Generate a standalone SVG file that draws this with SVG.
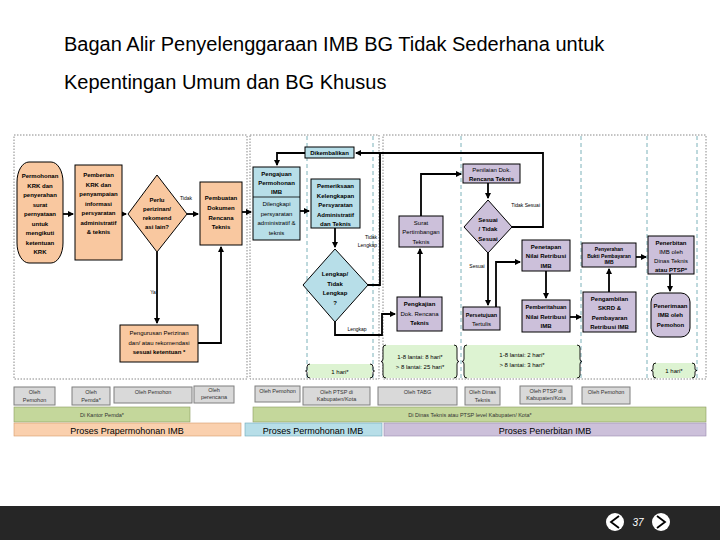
<svg xmlns="http://www.w3.org/2000/svg" width="720" height="540" viewBox="0 0 720 540">
<defs>
<marker id="ah" markerWidth="6" markerHeight="6" refX="5" refY="3" orient="auto" markerUnits="userSpaceOnUse">
<path d="M0,0 L6,3 L0,6 Z" fill="#000"/>
</marker>
<style>
.t{font-family:"Liberation Sans",Arial,sans-serif;fill:#000;text-anchor:middle}
.n{font-size:6px;font-weight:bold}
.r{font-size:6px}
.s{font-size:5px}
.sb{font-size:5px;font-weight:bold}
.peach{fill:#F9C8A0;stroke:#000;stroke-width:1}
.blue{fill:#B7DEE8;stroke:#000;stroke-width:1}
.lav{fill:#CCC0DA;stroke:#000;stroke-width:1}
.dot{fill:none;stroke:#888;stroke-width:1;stroke-dasharray:1.5 1.5}
.dash{fill:none;stroke:#5B9EA8;stroke-width:0.8;stroke-dasharray:4 3}
.c{fill:none;stroke:#000;stroke-width:1.8}
.g{fill:#D9D9D9;stroke:#7F7F7F;stroke-width:1}
.gt{font-family:"Liberation Sans",Arial,sans-serif;font-size:5.5px;fill:#333;text-anchor:middle}
.time{fill:#DDF3D2;stroke:none}
.br{fill:none;stroke:#000;stroke-width:0.9}
</style>
</defs>
<rect width="720" height="540" fill="#fff"/>
<g id="title">
<text x="64" y="51" font-family="Liberation Sans,Arial,sans-serif" font-size="20" fill="#000">Bagan Alir Penyelenggaraan IMB BG Tidak Sederhana untuk</text>
<text x="64" y="89" font-family="Liberation Sans,Arial,sans-serif" font-size="20" fill="#000">Kepentingan Umum dan BG Khusus</text>
</g>
<g id="regions">
<rect class="dot" x="14" y="135" width="233" height="244"/>
<rect class="dot" x="250" y="135" width="129" height="244"/>
<rect class="dot" x="383" y="135" width="323" height="244"/>
<line class="dash" x1="307" y1="136" x2="307" y2="379"/>
<line class="dash" x1="373" y1="136" x2="373" y2="379"/>
<line class="dash" x1="461" y1="136" x2="461" y2="379"/>
<line class="dash" x1="581" y1="136" x2="581" y2="379"/>
<line class="dash" x1="647" y1="136" x2="647" y2="379"/>
<line class="dash" x1="697" y1="136" x2="697" y2="379"/>
</g>
<g id="connectors">
<path class="c" d="M63,214 H73" marker-end="url(#ah)"/>
<path class="c" d="M122,214 H126" marker-end="url(#ah)"/>
<path class="c" d="M187,214 H198" marker-end="url(#ah)"/>
<path class="c" d="M242,212 H251" marker-end="url(#ah)"/>
<path class="c" d="M157,252 V323" marker-end="url(#ah)"/>
<path class="c" d="M198,343 H221 V247" marker-end="url(#ah)"/>
<path class="c" d="M305,153 H277 V165" marker-end="url(#ah)"/>
<path class="c" d="M300,211 H309" marker-end="url(#ah)"/>
<path class="c" d="M335,228 V247" marker-end="url(#ah)"/>
<path class="c" d="M512,227 H543 V153 H356" marker-end="url(#ah)"/>
<path class="c" d="M368,285 H380 V153"/>
<path class="c" d="M335,322 V335 H382 V314 H395" marker-end="url(#ah)"/>
<path class="c" d="M420,297 V249" marker-end="url(#ah)"/>
<path class="c" d="M421,216 V174 H461" marker-end="url(#ah)"/>
<path class="c" d="M488,183 V198" marker-end="url(#ah)"/>
<path class="c" d="M488,253 V305" marker-end="url(#ah)"/>
<path class="c" d="M496,307 V262 H520" marker-end="url(#ah)"/>
<path class="c" d="M546,271 V298" marker-end="url(#ah)"/>
<path class="c" d="M570,317 H581" marker-end="url(#ah)"/>
<path class="c" d="M609,292 V269" marker-end="url(#ah)"/>
<path class="c" d="M636,257 H646" marker-end="url(#ah)"/>
<path class="c" d="M670,274 V291" marker-end="url(#ah)"/>
<text class="t s" x="186" y="200">Tidak</text>
<text class="t s" x="153" y="294">Ya</text>
<text class="t s" x="377" y="239" text-anchor="end" style="text-anchor:end">Tidak</text>
<text class="t s" x="377" y="247" style="text-anchor:end">Lengkap</text>
<text class="t s" x="357" y="331">Lengkap</text>
<text class="t s" x="540" y="207" style="text-anchor:end">Tidak Sesuai</text>
<text class="t s" x="477" y="268">Sesuai</text>
</g>
<g id="n1">
<rect class="peach" x="17" y="162" width="46" height="101" rx="12" ry="20"/>
<text class="t n" x="40" y="178">Permohonan</text>
<text class="t n" x="40" y="187.5">KRK dan</text>
<text class="t n" x="40" y="197">penyerahan</text>
<text class="t n" x="40" y="206.5">surat</text>
<text class="t n" x="40" y="216">pernyataan</text>
<text class="t n" x="40" y="225.5">untuk</text>
<text class="t n" x="40" y="235">mengikuti</text>
<text class="t n" x="40" y="244.5">ketentuan</text>
<text class="t n" x="40" y="254">KRK</text>
</g>
<g id="n2">
<rect class="peach" x="75" y="165" width="47" height="95"/>
<text class="t n" x="98.5" y="177">Pemberian</text>
<text class="t n" x="98.5" y="186.5">KRK dan</text>
<text class="t n" x="98.5" y="196">penyampaian</text>
<text class="t n" x="98.5" y="205.5">informasi</text>
<text class="t n" x="98.5" y="215">persyaratan</text>
<text class="t n" x="98.5" y="224.5">administratif</text>
<text class="t n" x="98.5" y="234">&amp; teknis</text>
</g>
<g id="n3">
<polygon class="peach" points="157,175 187,214 157,252 128,214"/>
<text class="t n" x="157" y="202">Perlu</text>
<text class="t n" x="157" y="211">perizinan/</text>
<text class="t n" x="157" y="220">rekomend</text>
<text class="t n" x="157" y="229">asi lain?</text>
</g>
<g id="n4">
<rect class="peach" x="200" y="182" width="42" height="63"/>
<text class="t n" x="221" y="200">Pembuatan</text>
<text class="t n" x="221" y="210">Dokumen</text>
<text class="t n" x="221" y="219.5">Rencana</text>
<text class="t n" x="221" y="229">Teknis</text>
</g>
<g id="n5">
<rect class="peach" x="120" y="325" width="78" height="37"/>
<text class="t r" x="159" y="335">Pengurusan Perizinan</text>
<text class="t r" x="159" y="344.5">dan/ atau rekomendasi</text>
<text class="t n" x="159" y="354">sesuai ketentuan *</text>
</g>
<g id="n6">
<rect class="blue" x="305" y="147" width="49" height="11"/>
<text class="t n" x="329.5" y="155">Dikembalikan</text>
</g>
<g id="n7">
<rect class="blue" x="253" y="167" width="47" height="73"/>
<line x1="253" y1="197" x2="300" y2="197" stroke="#000" stroke-width="0.8"/>
<text class="t n" x="276.5" y="176">Pengajuan</text>
<text class="t n" x="276.5" y="185">Permohonan</text>
<text class="t n" x="276.5" y="194">IMB</text>
<text class="t r" x="276.5" y="206">Dilengkapi</text>
<text class="t r" x="276.5" y="215.5">persyaratan</text>
<text class="t r" x="276.5" y="225">administratif &amp;</text>
<text class="t r" x="276.5" y="234.5">teknis</text>
</g>
<g id="n8">
<rect class="blue" x="311" y="179" width="49" height="49"/>
<text class="t n" x="335.5" y="188">Pemeriksaan</text>
<text class="t n" x="335.5" y="197.5">Kelengkapan</text>
<text class="t n" x="335.5" y="207">Persyaratan</text>
<text class="t n" x="335.5" y="216.5">Administratif</text>
<text class="t n" x="335.5" y="226">dan Teknis</text>
</g>
<g id="n9">
<polygon class="blue" points="335,249 368,285 335,322 303,285"/>
<text class="t n" x="335" y="276">Lengkap/</text>
<text class="t n" x="335" y="285.5">Tidak</text>
<text class="t n" x="335" y="295">Lengkap</text>
<text class="t n" x="335" y="304.5">?</text>
</g>
<g id="n10">
<rect class="lav" x="399" y="216" width="44" height="31"/>
<text class="t r" x="421" y="224.5">Surat</text>
<text class="t r" x="421" y="234">Pertimbangan</text>
<text class="t r" x="421" y="243.5">Teknis</text>
</g>
<g id="n11">
<rect class="lav" x="463" y="164" width="57" height="19"/>
<text class="t r" x="491.5" y="172">Penilaian Dok.</text>
<text class="t n" x="491.5" y="181">Rencana Teknis</text>
</g>
<g id="n12">
<polygon class="lav" points="488,200 512,227 488,253 464,227"/>
<text class="t n" x="488" y="221.5">Sesuai</text>
<text class="t n" x="488" y="231">/ Tidak</text>
<text class="t n" x="488" y="240.5">Sesuai</text>
</g>
<g id="n13">
<rect class="lav" x="397" y="297" width="45" height="34"/>
<text class="t n" x="419.5" y="306">Pengkajian</text>
<text class="t r" x="419.5" y="315.5">Dok. Rencana</text>
<text class="t n" x="419.5" y="325">Teknis</text>
</g>
<g id="n14">
<rect class="lav" x="463" y="307" width="37" height="23"/>
<text class="t n" x="481.5" y="316.5" style="font-size:5.5px">Persetujuan</text>
<text class="t r" x="481.5" y="326">Tertulis</text>
</g>
<g id="n15">
<rect class="lav" x="522" y="240" width="48" height="31"/>
<text class="t n" x="546" y="248.5">Penetapan</text>
<text class="t n" x="546" y="258">Nilai Retribusi</text>
<text class="t n" x="546" y="267.5">IMB</text>
</g>
<g id="n16">
<rect class="lav" x="522" y="300" width="48" height="32"/>
<text class="t n" x="546" y="309" style="font-size:5.7px">Pemberitahuan</text>
<text class="t n" x="546" y="318.5">Nilai Retribusi</text>
<text class="t n" x="546" y="328">IMB</text>
</g>
<g id="n17">
<rect class="lav" x="583" y="292" width="53" height="40"/>
<text class="t n" x="609.5" y="300.5">Pengambilan</text>
<text class="t n" x="609.5" y="310">SKRD &amp;</text>
<text class="t n" x="609.5" y="319.5">Pembayaran</text>
<text class="t n" x="609.5" y="329">Retribusi IMB</text>
</g>
<g id="n18">
<rect class="lav" x="582" y="243" width="54" height="24"/>
<text class="t sb" x="609" y="251">Penyerahan</text>
<text class="t sb" x="609" y="257.5">Bukti Pembayaran</text>
<text class="t sb" x="609" y="264">IMB</text>
</g>
<g id="n19">
<rect class="lav" x="648" y="236" width="46" height="38"/>
<text class="t n" x="671" y="244.5">Penerbitan</text>
<text class="t r" x="671" y="253.5">IMB oleh</text>
<text class="t r" x="671" y="262.5">Dinas Teknis</text>
<text class="t n" x="671" y="271.5">atau PTSP*</text>
</g>
<g id="n20">
<rect class="lav" x="651" y="293" width="39" height="44" rx="9"/>
<text class="t n" x="670.5" y="307.5">Penerimaan</text>
<text class="t n" x="670.5" y="317">IMB oleh</text>
<text class="t n" x="670.5" y="326.5">Pemohon</text>
</g>
<g id="times">
<rect class="time" x="308" y="364" width="64" height="14"/>
<path class="br" d="M310,364 Q307,364 307,367 V369.5 Q307,371 305.5,371 Q307,371 307,372.5 V375 Q307,378 310,378"/>
<path class="br" d="M370,364 Q373,364 373,367 V369.5 Q373,371 374.5,371 Q373,371 373,372.5 V375 Q373,378 370,378"/>
<text class="t r" x="340" y="373.5">1 hari*</text>
<rect class="time" x="383" y="345" width="74" height="33"/>
<path class="br" d="M386,345 Q383,345 383,348 V359 Q383,361.5 381,361.5 Q383,361.5 383,364 V375 Q383,378 386,378"/>
<path class="br" d="M454,345 Q457,345 457,348 V359 Q457,361.5 459,361.5 Q457,361.5 457,364 V375 Q457,378 454,378"/>
<text class="t r" x="420" y="359">1-8 lantai: 8 hari*</text>
<text class="t r" x="420" y="368.5">&gt; 8 lantai: 25 hari*</text>
<rect class="time" x="464" y="345" width="116" height="33"/>
<path class="br" d="M467,345 Q464,345 464,348 V359 Q464,361.5 462,361.5 Q464,361.5 464,364 V375 Q464,378 467,378"/>
<path class="br" d="M577,345 Q580,345 580,348 V359 Q580,361.5 582,361.5 Q580,361.5 580,364 V375 Q580,378 577,378"/>
<text class="t r" x="522" y="357">1-8 lantai: 2 hari*</text>
<text class="t r" x="522" y="367">&gt; 8 lantai: 3 hari*</text>
<rect class="time" x="653" y="363" width="42" height="15"/>
<path class="br" d="M656,363 Q653,363 653,366 V369 Q653,370.5 651,370.5 Q653,370.5 653,372 V375 Q653,378 656,378"/>
<path class="br" d="M692,363 Q695,363 695,366 V369 Q695,370.5 697,370.5 Q695,370.5 695,372 V375 Q695,378 692,378"/>
<text class="t r" x="674" y="373">1 hari*</text>
</g>
<g id="actors">
<rect class="g" x="14" y="387" width="41" height="18"/>
<text class="gt" x="34.5" y="394">Oleh</text>
<text class="gt" x="34.5" y="401.5">Pemohon</text>
<rect class="g" x="72" y="387" width="38" height="18"/>
<text class="gt" x="91" y="394">Oleh</text>
<text class="gt" x="91" y="401.5">Pemda*</text>
<rect class="g" x="114" y="387" width="78" height="16"/>
<text class="gt" x="153" y="394">Oleh Pemohon</text>
<rect class="g" x="194" y="386" width="40" height="17"/>
<text class="gt" x="214" y="392">Oleh</text>
<text class="gt" x="214" y="399">perencana</text>
<rect class="g" x="255" y="386" width="45" height="16"/>
<text class="gt" x="277.5" y="393">Oleh Pemohon</text>
<rect class="g" x="303" y="387" width="67" height="18"/>
<text class="gt" x="336.5" y="393.5">Oleh PTSP di</text>
<text class="gt" x="336.5" y="400.5">Kabupaten/Kota</text>
<rect class="g" x="378" y="387" width="79" height="18"/>
<text class="gt" x="417.5" y="394">Oleh TABG</text>
<rect class="g" x="465" y="387" width="35" height="18"/>
<text class="gt" x="482.5" y="394">Oleh Dinas</text>
<text class="gt" x="482.5" y="401.5">Teknis</text>
<rect class="g" x="520" y="386" width="52" height="18" stroke="#444"/>
<text class="gt" x="546" y="392.5">Oleh PTSP di</text>
<text class="gt" x="546" y="399.5">Kabupaten/Kota</text>
<rect class="g" x="582" y="387" width="48" height="17"/>
<text class="gt" x="606" y="394">Oleh Pemohon</text>
</g>
<g id="places">
<rect x="14" y="407" width="176" height="15" fill="#C4D79B" stroke="#8A9A60" stroke-width="0.6"/>
<text class="gt" x="102" y="417">Di Kantor Pemda*</text>
<rect x="253" y="407" width="453" height="15" fill="#C4D79B" stroke="#8A9A60" stroke-width="0.6"/>
<text class="gt" x="470" y="417">Di Dinas Teknis atau PTSP level Kabupaten/ Kota*</text>
</g>
<g id="phases">
<rect x="14" y="423" width="227" height="13" fill="#FAD0AE" stroke="#D89A6A" stroke-width="0.6"/>
<text class="t" x="127" y="433.5" font-size="9" fill="#333">Proses Prapermohonan IMB</text>
<rect x="245" y="423" width="137" height="13" fill="#B7DEE8" stroke="#6FA8B8" stroke-width="0.6"/>
<text class="t" x="313" y="433.5" font-size="9" fill="#333">Proses Permohonan IMB</text>
<rect x="384" y="423" width="322" height="13" fill="#CCC0DA" stroke="#9A8AB0" stroke-width="0.6"/>
<text class="t" x="545" y="433.5" font-size="9" fill="#333">Proses Penerbitan IMB</text>
</g>
<g id="footer">
<rect x="0" y="506" width="720" height="34" fill="#262626"/>
<circle cx="615" cy="522" r="9" fill="#fff"/>
<path d="M619,516 L611,522 L619,528" fill="none" stroke="#000" stroke-width="1.8"/>
<circle cx="661" cy="522" r="9" fill="#fff"/>
<path d="M657,516 L665,522 L657,528" fill="none" stroke="#000" stroke-width="1.8"/>
<text x="638" y="526" font-family="Liberation Sans,Arial,sans-serif" font-size="10" font-style="italic" fill="#fff" text-anchor="middle">37</text>
</g>
</svg>
